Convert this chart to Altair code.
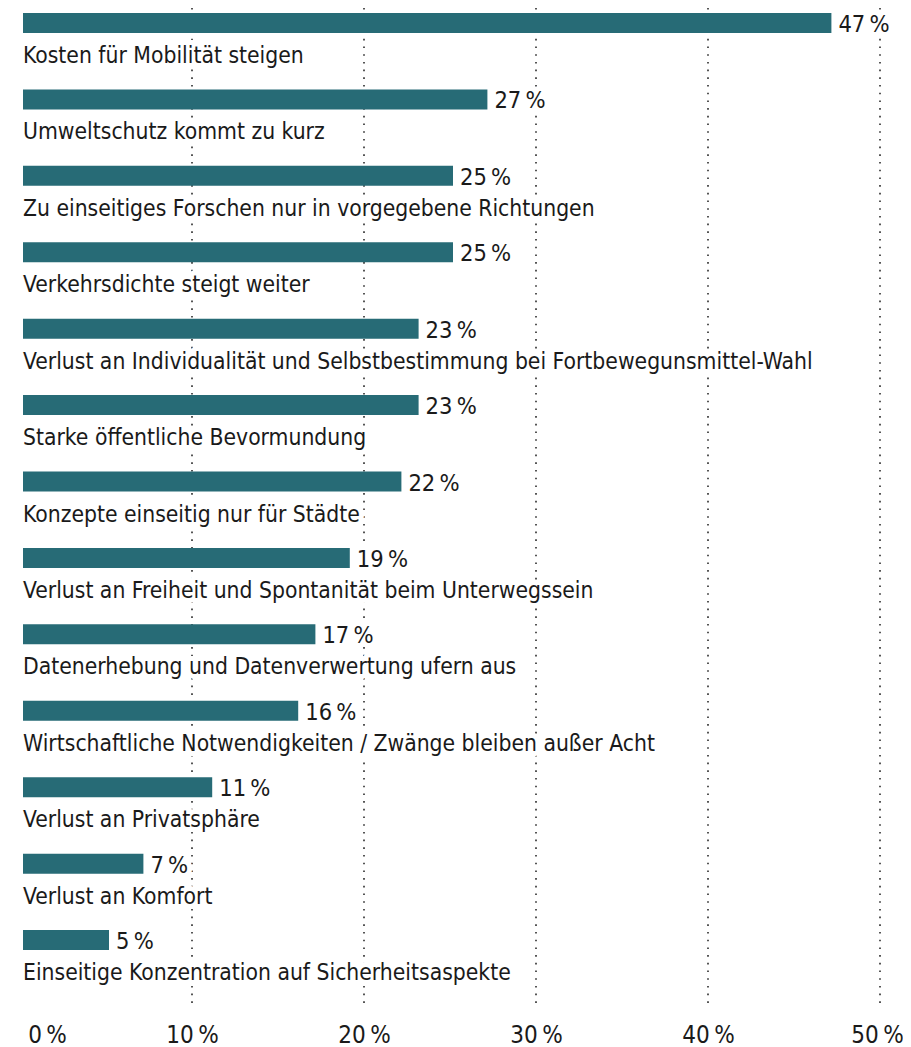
import altair as alt
import pandas as pd

categories = [
    "Kosten für Mobilität steigen",
    "Umweltschutz kommt zu kurz",
    "Zu einseitiges Forschen nur in vorgegebene Richtungen",
    "Verkehrsdichte steigt weiter",
    "Verlust an Individualität und Selbstbestimmung bei Fortbewegunsmittel-Wahl",
    "Starke öffentliche Bevormundung",
    "Konzepte einseitig nur für Städte",
    "Verlust an Freiheit und Spontanität beim Unterwegssein",
    "Datenerhebung und Datenverwertung ufern aus",
    "Wirtschaftliche Notwendigkeiten / Zwänge bleiben außer Acht",
    "Verlust an Privatsphäre",
    "Verlust an Komfort",
    "Einseitige Konzentration auf Sicherheitsaspekte",
]
values = [47, 27, 25, 25, 23, 23, 22, 19, 17, 16, 11, 7, 5]
tick_values = [0, 10, 20, 30, 40, 50]
grid_values = [10, 20, 30, 40, 50]

df = pd.DataFrame({"cat": categories, "val": values})
df["label"] = df["val"].astype(str) + "\u2009%"

FONT = "Liberation Sans Narrow, DejaVu Sans Condensed, Arial Narrow, sans-serif"
BAR = "#276b76"
TXT = "#1a1a1a"
W, H = 860, 997
STEP = 76.42

xscale = alt.Scale(domain=[0, 50], nice=False, zero=True)
yscale = alt.Scale(domain=categories, range=[-23.2, -23.2 + 13 * STEP],
                   paddingInner=0, paddingOuter=0)

grid = alt.Chart(pd.DataFrame({"g": grid_values})).mark_rule(
    color="#555555", strokeDash=[1.6, 6.1], strokeWidth=2
).encode(
    x=alt.X("g:Q", scale=xscale, title=None,
            axis=alt.Axis(values=tick_values, labelExpr="datum.value + '\u2009%'",
                          grid=False, ticks=False, tickSize=0, domain=False,
                          labelFont=FONT, labelFontSize=24, labelColor=TXT,
                          labelFlush=False, labelPadding=37,
                          labelBaseline="alphabetic",
                          labelOffset={"condition": [
                              {"test": "datum.value == 0", "value": 27},
                              {"test": "datum.value == 50", "value": -3}],
                              "value": 0}))
)

base = alt.Chart(df)
ycat = alt.Y("cat:N", scale=yscale, sort=None, axis=None)

halo = base.mark_text(
    align="left", baseline="alphabetic", font=FONT, fontSize=22.7,
    stroke="white", strokeWidth=10, strokeJoin="round", dy=40, fill="white"
).encode(x=alt.value(3), y=ycat, text="cat:N")

cat_text = base.mark_text(
    align="left", baseline="alphabetic", font=FONT, fontSize=22.7, color=TXT, dy=40
).encode(x=alt.value(3), y=ycat, text="cat:N")

val_halo = base.mark_text(
    align="left", baseline="alphabetic", font=FONT, fontSize=23.5,
    stroke="white", strokeWidth=10, strokeJoin="round", fill="white", dx=10, dy=9
).encode(x=alt.X("val:Q", scale=xscale), y=ycat, text="label:N")

val_text = base.mark_text(
    align="left", baseline="alphabetic", font=FONT, fontSize=23.5, color=TXT, dx=10, dy=9
).encode(x=alt.X("val:Q", scale=xscale), y=ycat, text="label:N")

bars = base.mark_bar(color=BAR, size=20, xOffset=3, x2Offset=3).encode(
    x=alt.X("val:Q", scale=xscale), y=ycat,
)

chart = alt.layer(grid, halo, val_halo, bars, cat_text, val_text).properties(
    width=W, height=H,
    padding={"left": 12, "top": 0, "right": 23, "bottom": 45},
    autosize=alt.AutoSizeParams(type="none"),
).configure(background="white").configure_view(stroke="transparent", strokeWidth=0)

chart.save("out.html", embed_options={"renderer": "svg", "actions": False})
